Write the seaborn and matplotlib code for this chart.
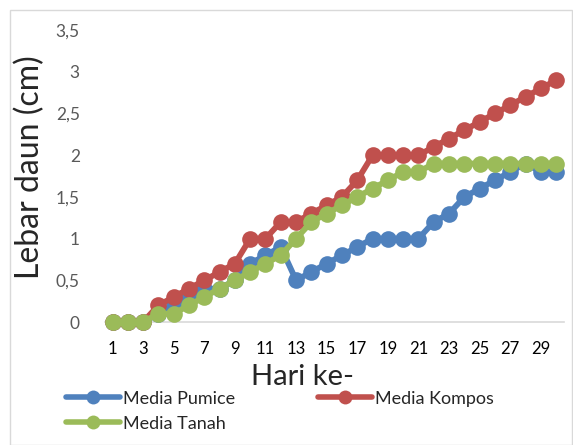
import pandas as pd
import matplotlib
matplotlib.use("Agg")
import matplotlib.pyplot as plt
import seaborn as sns

# Data
hari = list(range(1, 31))
pumice = [0, 0, 0, 0.1, 0.2, 0.3, 0.4, 0.4, 0.5, 0.7, 0.8, 0.9, 0.5, 0.6, 0.7,
          0.8, 0.9, 1.0, 1.0, 1.0, 1.0, 1.2, 1.3, 1.5, 1.6, 1.7, 1.8, 1.9, 1.8, 1.8]
kompos = [0, 0, 0, 0.2, 0.3, 0.4, 0.5, 0.6, 0.7, 1.0, 1.0, 1.2, 1.2, 1.3, 1.4,
          1.5, 1.7, 2.0, 2.0, 2.0, 2.0, 2.1, 2.2, 2.3, 2.4, 2.5, 2.6, 2.7, 2.8, 2.9]
tanah = [0, 0, 0, 0.1, 0.1, 0.2, 0.3, 0.4, 0.5, 0.6, 0.7, 0.8, 1.0, 1.2, 1.3,
         1.4, 1.5, 1.6, 1.7, 1.8, 1.8, 1.9, 1.9, 1.9, 1.9, 1.9, 1.9, 1.9, 1.9, 1.9]
series = ["Media Pumice", "Media Kompos", "Media Tanah"]
y_ticks = [0, 0.5, 1, 1.5, 2, 2.5, 3, 3.5]
x_ticks = list(range(1, 30, 2))

df = pd.DataFrame({
    "hari": hari * 3,
    "lebar": pumice + kompos + tanah,
    "media": [s for s in series for _ in hari],
})

sns.set_style("white")
plt.rcParams["font.family"] = ["Lato", "DejaVu Sans"]

fig = plt.figure(figsize=(5.73, 4.45), dpi=100)
ax = fig.add_axes([0.183, 0.2764, 0.801, 0.656])

palette = {"Media Pumice": "#4F81BD", "Media Kompos": "#C0504D", "Media Tanah": "#9BBB59"}
sns.lineplot(data=df, x="hari", y="lebar", hue="media", hue_order=series,
             palette=palette, marker="o", markersize=12, markeredgewidth=0,
             linewidth=4.2, ax=ax, legend=False)

ax.set_xlim(0.5, 30.5)
ax.set_ylim(0, 3.5)
ax.set_xticks(x_ticks)
ax.set_xticklabels([str(x) for x in x_ticks], fontsize=12, color="black")
ax.set_yticks(y_ticks)
ax.set_yticklabels([str(v).replace(".", ",") if v % 1 else str(int(v)) for v in y_ticks],
                   fontsize=12.5, color="#595959")
ax.tick_params(axis="y", length=0, pad=18)
ax.tick_params(axis="x", length=0, pad=14)
ax.set_xlabel("Hari ke-", fontsize=21)
ax.xaxis.set_label_coords(0.43, -0.145)
ax.set_ylabel("Lebar daun (cm)", fontsize=23)
ax.yaxis.set_label_coords(-0.13, 0.53)

for side in ["left", "right", "top"]:
    ax.spines[side].set_visible(False)
ax.spines["bottom"].set_color("#D9D9D9")
ax.spines["bottom"].set_linewidth(1.2)
ax.spines["bottom"].set_zorder(0)
for line in ax.lines:
    line.set_clip_on(False)

# legend fills row-wise in the original: Pumice, Kompos / Tanah
order = ["Media Pumice", "Media Tanah", "Media Kompos"]
handles = [plt.Line2D([], [], color=palette[s], marker="o", markersize=10,
                      linewidth=4, markeredgewidth=0) for s in order]
fig.legend(handles, order, loc="upper left", bbox_to_anchor=(0.115, 0.122),
           ncol=2, frameon=False, fontsize=13, handlelength=3.0,
           columnspacing=4.6, handletextpad=0.15, labelspacing=0.5,
           borderaxespad=0, borderpad=0)

# light figure border like the original
fig.patches.append(plt.Rectangle((0.018, 0.0), 0.98, 0.978, transform=fig.transFigure,
                                 fill=False, edgecolor="#D9D9D9", linewidth=1))

fig.savefig("out.png", dpi=100)
